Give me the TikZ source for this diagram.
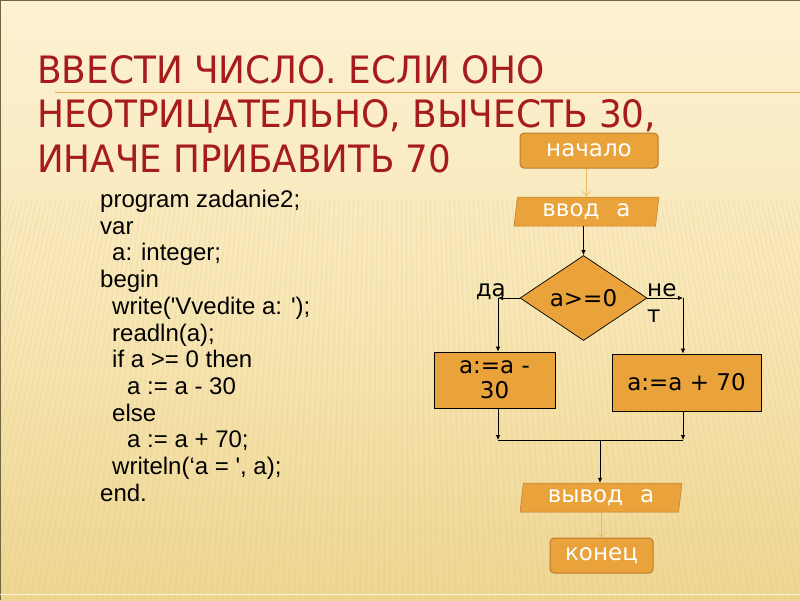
\documentclass[tikz,border=0pt]{standalone}
\usepackage{graphicx}
\usepackage{fontspec}
\setmainfont{Liberation Sans}
\newfontfamily\flussfont{DejaVu Sans}
\usetikzlibrary{shapes.geometric, arrows.meta, calc}

\definecolor{titelrot}{RGB}{166,28,28}
\definecolor{hgoben}{RGB}{252,241,210}
\definecolor{hgmitte}{RGB}{248,231,183}
\definecolor{hgunten}{RGB}{238,214,146}
\definecolor{streifen}{RGB}{226,196,122}
\definecolor{kante}{RGB}{112,102,62}
\definecolor{goldlinie}{RGB}{226,170,70}
\definecolor{orangefill}{RGB}{233,163,58}
\definecolor{orangerand}{RGB}{186,124,44}
\definecolor{hellpfeil}{RGB}{236,186,100}

\newcommand{\einr}{\hspace*{12pt}}
\newcommand{\einrr}{\hspace*{27pt}}

\begin{document}
\begin{tikzpicture}[x=1pt, y=-1pt,
    flusstext/.style={font=\flussfont\fontsize{23}{26}\selectfont},
    endblock/.style={flusstext, rectangle, rounded corners=4pt, fill=orangefill,
      draw=orangerand, line width=1pt, text=white, inner sep=0pt},
    ioblock/.style={flusstext, trapezium, trapezium left angle=78,
      trapezium right angle=102, trapezium stretches body, fill=orangefill,
      draw=orangerand, line width=0.5pt, text=white, inner sep=0pt},
    aktion/.style={flusstext, rectangle, fill=orangefill, draw=black,
      line width=0.7pt, inner sep=0pt, align=center},
    pfeil/.style={line width=0.7pt, -{Latex[length=5pt,width=4.5pt]}},
    hellerpfeil/.style={hellpfeil, line width=0.7pt, -{Straight Barb[length=5pt,width=8pt]}},
    titel/.style={font=\flussfont, text=titelrot, inner sep=0pt}]

    % 1. Hintergrund der Folie
    \useasboundingbox (0,0) rectangle (800,600);
    \shade[top color=hgoben, bottom color=hgunten, middle color=hgmitte] (0,0) rectangle (800,600);
    \foreach \x in {-300,-294,...,1100}
      \draw[streifen, opacity=0.22, line width=1.2pt] ($(400,-1400)!0.8!(\x,600)$) -- (\x,600);
    \fill[hgoben, opacity=0.6] (0,0) rectangle (800,28);
    \draw[kante, line width=2.5pt] (0,0) -- (800,0);
    \draw[kante, line width=1.5pt] (0,0) -- (0,600);
    \draw[hgoben, line width=1pt] (0,594) -- (800,594);
    \draw[goldlinie, line width=0.8pt] (55,92) -- (800,92);

    % 2. Ueberschrift
    \node[titel, anchor=base west] (z1) at (37,83) {\resizebox{508pt}{28pt}{ВВЕСТИ ЧИСЛО. ЕСЛИ ОНО}};
    \node[titel, anchor=base west] (z2) at (37,127.5) {\resizebox{619pt}{28pt}{НЕОТРИЦАТЕЛЬНО, ВЫЧЕСТЬ 30,}};
    \node[titel, anchor=base west] (z3) at (37,172) {\resizebox{414pt}{28pt}{ИНАЧЕ ПРИБАВИТЬ 70}};

    % 3. Programmtext
    \node[anchor=north west, inner sep=0pt, align=left,
      font=\fontsize{24}{26.7}\selectfont] (programm) at (100,190) {%
      program zadanie2;\\
      var\\
      \einr a: integer;\\
      begin\\
      \einr write(\textquotesingle Vvedite a: \textquotesingle);\\
      \einr readln(a);\\
      \einr if a >= 0 then\\
      \einrr a := a - 30\\
      \einr else\\
      \einrr a := a + 70;\\
      \einr writeln(‘a = \textquotesingle, a);\\
      end.};

    % 4. Blockschema
    \node[endblock, minimum width=138pt, minimum height=35pt] (nachalo) at (589,150.5) {начало};
    \node[ioblock, minimum width=145pt, minimum height=29pt] (vvod) at (586.5,211.5) {ввод\hspace{17pt}а};
    \node[flusstext, diamond, fill=orangefill, draw=black, line width=0.7pt, inner sep=0pt,
      minimum width=127pt, minimum height=85pt] (uslovie) at (583.5,298) {а>=0};
    \node[aktion, minimum width=121pt, minimum height=56pt] (minus) at (494.5,380) {а:=а -\\[-1pt]30};
    \node[aktion, minimum width=149pt, minimum height=57pt] (plus) at (686.5,382.5) {а:=а + 70};
    \node[ioblock, minimum width=162pt, minimum height=29pt] (vyvod) at (601,497.5) {вывод\hspace{17pt}а};
    \node[endblock, minimum width=103pt, minimum height=35pt] (konec) at (601.5,555.5) {конец};

    % Beschriftung der Verzweigung
    \node[flusstext, anchor=base east, inner sep=0pt] (da) at (506,296) {да};
    \node[flusstext, anchor=north west, inner sep=0pt, align=left] (net) at (647,283.5) {не\\т};

    % Hilfspunkte
    \coordinate (daEcke) at (498,298);
    \coordinate (netEcke) at (683,298);
    \coordinate (M) at (600,440);

    % 5. Verbindungen
    \draw[hellerpfeil] (vvod.north |- nachalo.south) -- (vvod.north);
    \draw[pfeil] (uslovie.north |- vvod.south) -- (uslovie.north);
    \draw[pfeil] (uslovie.west) -- (daEcke);
    \draw[pfeil] (daEcke) -- (daEcke |- minus.north);
    \draw[pfeil] (uslovie.east) -- (netEcke);
    \draw[pfeil] (netEcke) -- (netEcke |- plus.north);
    \draw[pfeil] (daEcke |- minus.south) -- (daEcke |- M);
    \draw[pfeil] (netEcke |- plus.south) -- (netEcke |- M);
    \draw[line width=0.7pt] (daEcke |- M) -- (netEcke |- M);
    \draw[pfeil] (M) -- (M |- vyvod.north);
    \draw[hellerpfeil] (konec.north |- vyvod.south) -- (konec.north);

\end{tikzpicture}
\end{document}
